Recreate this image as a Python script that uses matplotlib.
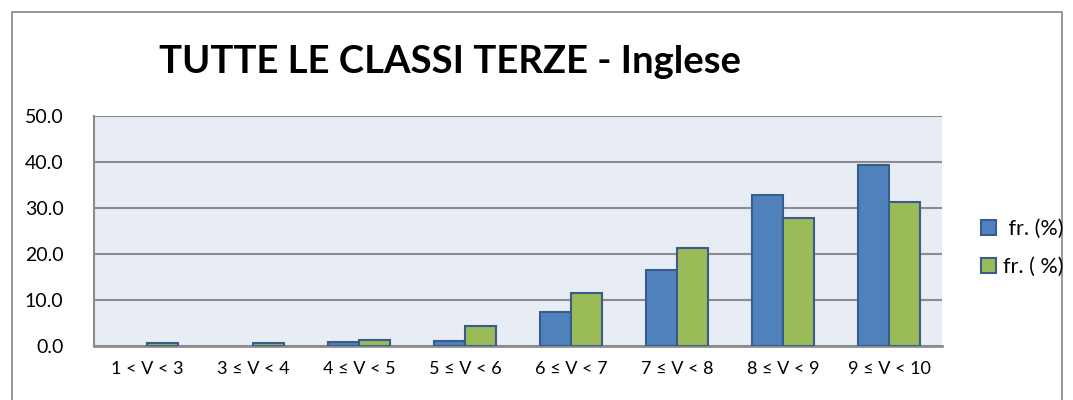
import matplotlib
matplotlib.use("Agg")
import matplotlib.pyplot as plt
import numpy as np
from matplotlib.patches import Rectangle

plt.rcParams['font.family'] = ['Lato', 'DejaVu Sans']

# --------------------------------------
# Data
# --------------------------------------
categories = ["1 < V < 3", "3 ≤ V < 4", "4 ≤ V < 5", "5 ≤ V < 6",
              "6 ≤ V < 7", "7 ≤ V < 8", "8 ≤ V < 9", "9 ≤ V < 10"]
freq_a = [0.0, 0.0, 0.9, 1.1, 7.5, 16.6, 32.9, 39.3]
freq_b = [0.6, 0.6, 1.2, 4.4, 11.6, 21.3, 27.9, 31.3]
label_a = " fr. (%)"
label_b = "fr. ( %)"
yticks = [0, 10, 20, 30, 40, 50]

# --------------------------------------
# Plot
# --------------------------------------
W, H = 1073, 400
fig = plt.figure(figsize=(W / 100, H / 100), dpi=100)

# outer chart border
fig.patches.append(Rectangle((12 / W, -0.1), 1050 / W, 1.1 - 12 / H,
                             transform=fig.transFigure, fill=False,
                             edgecolor="#868686", linewidth=1.2))

ax = fig.add_axes([94 / W, (H - 346) / H, 848 / W, 230 / H])
ax.set_facecolor("#E8ECF4")

x = np.arange(len(categories))
bw = 0.29
bars_a = ax.bar(x - bw / 2, freq_a, bw, color="#4F81BD", edgecolor="#385D8A",
                linewidth=1.5, label=label_a, zorder=3)
bars_b = ax.bar(x + bw / 2, freq_b, bw, color="#9BBB59", edgecolor="#385D8A",
                linewidth=1.5, label=label_b, zorder=3)

ax.set_xlim(-0.5, len(categories) - 0.5)
ax.set_ylim(0, 50)
ax.set_yticks(yticks)
ax.set_yticklabels([f"{v:.1f}" for v in yticks], fontsize=14)
ax.set_xticks(x)
ax.set_xticklabels(categories, fontsize=13)
ax.tick_params(length=0, pad=11)
ax.tick_params(axis="y", pad=22)
ax.yaxis.grid(True, color="#8C8C8C", linewidth=1.5, zorder=1)
ax.set_axisbelow(True)

for s in ["top", "right"]:
    ax.spines[s].set_visible(False)
ax.spines["left"].set_color("#8C8C8C")
ax.spines["left"].set_linewidth(1.5)
ax.spines["bottom"].set_color("#8C8C8C")
ax.spines["bottom"].set_linewidth(2)

fig.text(450 / W, 1 - 62 / H, "TUTTE LE CLASSI TERZE - Inglese",
         ha="center", va="center", fontsize=27.5, fontweight="bold")

fig.legend(loc="center left", bbox_to_anchor=(972 / W, 1 - 248 / H),
           frameon=False, fontsize=15.5, handlelength=0.7, handleheight=0.7,
           handletextpad=0.35, labelspacing=0.85, borderaxespad=0.0)

# empty classes get no outline (after legend so handles keep theirs)
for b in list(bars_a) + list(bars_b):
    if b.get_height() == 0:
        b.set_linewidth(0)

plt.savefig("out.png", dpi=100)
plt.close()
